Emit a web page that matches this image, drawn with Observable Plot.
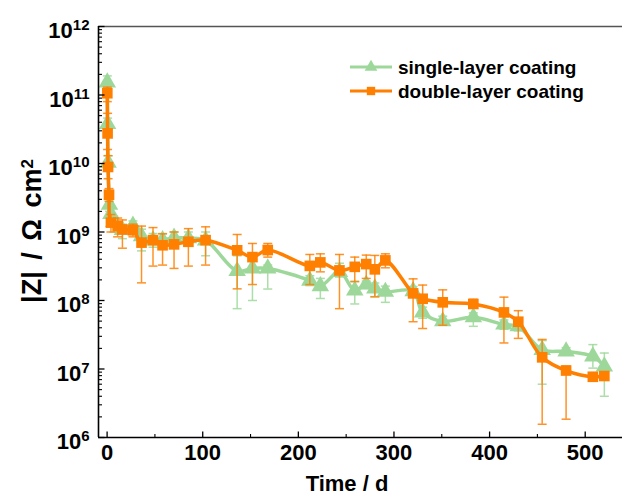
<!DOCTYPE html>
<html><head><meta charset="utf-8">
<script src="https://cdn.jsdelivr.net/npm/d3@7"></script>
<script src="https://cdn.jsdelivr.net/npm/@observablehq/plot@0.6"></script>
<style>body{margin:0;background:#fff} svg{display:block}</style>
</head><body><div id="chart"></div>
<script>
// ---- data ----
const seriesNames = ["single-layer coating", "double-layer coating"];

const singleDays = [0.2, 0.5, 1, 2.5, 4, 7, 16, 27, 36, 48, 58, 70, 85, 103, 136, 152, 168, 212, 223, 243, 259, 271, 280, 291, 320, 330, 351, 383, 415, 430, 455, 480, 508, 520];
const singleZ    = [1.53e11, 3.77e10, 1.03e10, 2.5e9, 1.83e9, 1.4e9, 1.07e9, 1.24e9, 8.7e8, 7.55e8, 7.6e8, 8.25e8, 8.1e8, 7.55e8, 2.69e8, 2.94e8, 2.94e8, 1.95e8, 1.62e8, 2.62e8, 1.4e8, 1.71e8, 1.5e8, 1.34e8, 1.37e8, 6.7e7, 4.98e7, 5.7e7, 4.46e7, 4.2e7, 1.9e7, 1.81e7, 1.53e7, 1.09e7];
const singleLo   = [1.2e11, 3.0e10, 8e9, 2e9, 1.4e9, 1.0e9, 8e8, 1.0e9, 5.3e8, 6e8, 6e8, 6.5e8, 6.5e8, 4.5e8, 7.6e7, 1.0e8, 1.47e8, 1.65e8, 1.07e8, 2.2e8, 8.9e7, 1.5e8, 1.14e8, 9.4e7, 1.15e8, 5.5e7, 4.35e7, 4.2e7, 3.8e7, 3.6e7, 6.0e6, 1.6e7, 1.03e7, 4.0e6];
const singleHi   = [1.9e11, 4.6e10, 1.3e10, 3e9, 2.3e9, 1.7e9, 1.3e9, 1.45e9, 1.1e9, 9.5e8, 9.5e8, 1.0e9, 1.0e9, 1.0e9, 4.5e8, 3.9e8, 3.3e8, 2.3e8, 2.1e8, 3.5e8, 1.92e8, 1.92e8, 1.8e8, 1.62e8, 1.6e8, 8e7, 5.9e7, 6.6e7, 5.2e7, 4.9e7, 2.6e7, 2.05e7, 2.27e7, 1.71e7];

const doubleDays = [0.2, 0.5, 1, 2, 4, 11, 16, 27, 36, 48, 58, 70, 85, 103, 136, 152, 168, 212, 223, 243, 259, 271, 280, 291, 320, 330, 351, 383, 415, 430, 455, 480, 508, 520];
const doubleZ    = [1.06e11, 2.75e10, 8.9e9, 3.5e9, 1.37e9, 1.22e9, 1.09e9, 1.06e9, 7.0e8, 7.6e8, 6.4e8, 6.6e8, 7.2e8, 7.6e8, 5.4e8, 4.3e8, 5.45e8, 3.2e8, 3.6e8, 2.75e8, 3.1e8, 3.4e8, 2.85e8, 3.85e8, 1.27e8, 1.06e8, 9.4e7, 8.9e7, 6.7e7, 4.9e7, 1.48e7, 9.5e6, 7.7e6, 7.9e6];
const doubleLo   = [8e10, 1.6e10, 6e9, 2.8e9, 1.0e9, 8.5e8, 5.8e8, 8.5e8, 1.81e8, 3.18e8, 3.29e8, 2.94e8, 3.18e8, 3.29e8, 1.48e8, 1.71e8, 4.3e8, 1.71e8, 2.62e8, 7.6e7, 1.88e8, 2.1e8, 1.13e8, 3.0e8, 4.9e7, 3.9e7, 4.35e7, 7.8e7, 2.4e7, 2.8e7, 1.56e6, 1.85e6, 7.0e6, 7.2e6];
const doubleHi   = [1.3e11, 5.4e10, 1.3e10, 4.3e9, 1.8e9, 1.6e9, 1.5e9, 1.3e9, 1.22e9, 1.16e9, 9.4e8, 1.0e9, 1.12e9, 1.19e9, 9.2e8, 6.8e8, 6.8e8, 4.7e8, 4.8e8, 4.7e8, 4.3e8, 4.6e8, 4.55e8, 4.8e8, 2.07e8, 1.68e8, 1.43e8, 1.04e8, 1.12e8, 7.1e7, 2.7e7, 1.1e7, 8.5e6, 8.7e6];

const xTicks = [0, 100, 200, 300, 400, 500];
const xMinorTicks = [50, 150, 250, 350, 450];
const yTicks = [1e6, 1e7, 1e8, 1e9, 1e10, 1e11, 1e12];
const yMinorTicks = [];
for (let k = 6; k < 12; k++) for (let m = 2; m <= 9; m++) yMinorTicks.push(m * 10 ** k);

// ---- tables ----
const single = singleDays.map((d, i) => ({day: d, z: singleZ[i], lo: singleLo[i], hi: singleHi[i]}));
const dbl = doubleDays.map((d, i) => ({day: d, z: doubleZ[i], lo: doubleLo[i], hi: doubleHi[i]}));

const GREEN = "#9dd89a";
const ORANGE = "#ff7f00";
const FONT = "'Liberation Sans', Arial, sans-serif";
const xDomain = [-9, 539];

const tickRight = len => ({draw(ctx) { ctx.moveTo(0, 0); ctx.lineTo(len, 0); }});
const tickUp = len => ({draw(ctx) { ctx.moveTo(0, 0); ctx.lineTo(0, -len); }});
const capH = {draw(ctx) { ctx.moveTo(-4.5, 0); ctx.lineTo(4.5, 0); }};

function errorMarks(data, color, op) {
  return [
    Plot.ruleX(data, {x: "day", y1: "lo", y2: "hi", stroke: color, strokeWidth: 1.5, strokeOpacity: op}),
    Plot.dot(data, {x: "day", y: "lo", symbol: capH, stroke: color, strokeWidth: 1.5, strokeOpacity: op, fill: "none"}),
    Plot.dot(data, {x: "day", y: "hi", symbol: capH, stroke: color, strokeWidth: 1.5, strokeOpacity: op, fill: "none"})
  ];
}

const svgEl = Plot.plot({
  width: 622, height: 496,
  marginLeft: 98, marginRight: 0, marginTop: 26, marginBottom: 59,
  style: {fontFamily: FONT, background: "white", overflow: "visible"},
  x: {domain: xDomain, axis: null},
  y: {type: "log", domain: [1e6, 1e12], axis: null},
  marks: [
    Plot.ruleY([1e12], {stroke: "#555", strokeWidth: 1.5}),
    ...errorMarks(single, GREEN, 0.85),
    Plot.line(single, {x: "day", y: "z", stroke: GREEN, strokeWidth: 3.5, curve: "catmull-rom"}),
    Plot.dot(single, {x: "day", y: "z", symbol: "triangle", r: 6.5, fill: GREEN, stroke: "none"}),
    ...errorMarks(dbl, ORANGE, 0.85),
    Plot.line(dbl, {x: "day", y: "z", stroke: ORANGE, strokeWidth: 3.5, curve: "catmull-rom"}),
    Plot.dot(dbl, {x: "day", y: "z", symbol: "square", r: 6, fill: ORANGE, stroke: "none"}),
    Plot.ruleX([xDomain[0]], {stroke: "black", strokeWidth: 1.6}),
    Plot.ruleY([1e6], {stroke: "black", strokeWidth: 1.6}),
    Plot.dot(yTicks, {x: () => xDomain[0], y: d => d, symbol: tickRight(6), stroke: "black", strokeWidth: 1.3}),
    Plot.dot(yMinorTicks, {x: () => xDomain[0], y: d => d, symbol: tickRight(3.5), stroke: "black", strokeWidth: 1.1}),
    Plot.dot(xTicks, {x: d => d, y: () => 1e6, symbol: tickUp(6), stroke: "black", strokeWidth: 1.3}),
    Plot.dot(xMinorTicks, {x: d => d, y: () => 1e6, symbol: tickUp(3.5), stroke: "black", strokeWidth: 1.1}),
    Plot.axisX({ticks: xTicks, tickSize: 0, tickPadding: 7, fontSize: 22, fontWeight: "bold", label: null, tickFormat: d => String(d)}),
    Plot.axisY({ticks: yTicks, tickSize: 0, tickPadding: 9, fontSize: 22, fontWeight: "bold", label: null, tickFormat: d => "10^" + Math.round(Math.log10(d))})
  ]
});

document.getElementById("chart").appendChild(svgEl);
const svg = d3.select(svgEl);

// superscript exponents on y tick labels
svg.selectAll('g[aria-label="y-axis tick label"] text').each(function () {
  const t = d3.select(this);
  const s = t.text();
  if (!s.includes("^")) return;
  const [base, exp] = s.split("^");
  t.text(null);
  t.attr("dy", "0.22em");
  t.append("tspan").text(base);
  t.append("tspan").attr("dy", "-0.55em").attr("font-size", "15px").text(exp);
});

// y-axis title
const yt = svg.append("text")
  .attr("transform", "translate(41,231) rotate(-90)")
  .attr("text-anchor", "middle")
  .attr("font-family", FONT)
  .attr("font-weight", "bold").attr("font-size", 27)
  .attr("word-spacing", 4)
  .attr("fill", "black");
yt.append("tspan").text("|Z| / Ω cm");
yt.append("tspan").attr("dy", "-0.5em").attr("font-size", 17).text("2");

// x-axis title
svg.append("text")
  .attr("x", 347).attr("y", 491)
  .attr("text-anchor", "middle")
  .attr("font-family", FONT)
  .attr("font-weight", "bold").attr("font-size", 22)
  .attr("fill", "black")
  .text("Time / d");

// legend
const legendItems = [
  {name: seriesNames[0], color: GREEN, sym: d3.symbolTriangle},
  {name: seriesNames[1], color: ORANGE, sym: d3.symbolSquare}
];
const lg = svg.append("g").attr("font-family", FONT).attr("text-anchor", "start");
legendItems.forEach((it, i) => {
  const y = 67 + i * 24;
  lg.append("line").attr("x1", 350).attr("x2", 392).attr("y1", y).attr("y2", y)
    .attr("stroke", it.color).attr("stroke-width", 3);
  lg.append("path").attr("transform", `translate(371,${y})`)
    .attr("d", d3.symbol(it.sym, 70)()).attr("fill", it.color);
  lg.append("text").attr("x", 398).attr("y", y + 6.5).attr("text-anchor", "start")
    .attr("font-weight", "bold").attr("font-size", 19).attr("fill", "black")
    .text(it.name);
});
</script>
</body></html>
